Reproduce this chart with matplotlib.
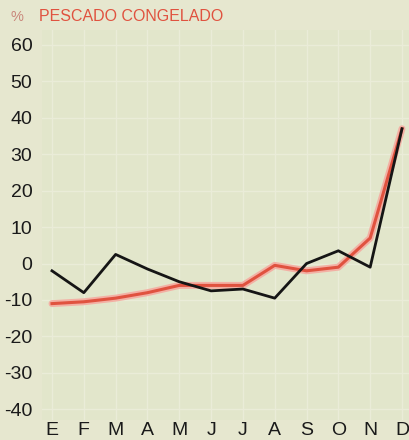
import matplotlib

matplotlib.use("Agg")
import matplotlib.pyplot as plt

months = ["E", "F", "M", "A", "M", "J", "J", "A", "S", "O", "N", "D"]
serie_negra = [-2, -8, 2.5, -1.5, -5, -7.5, -7, -9.5, 0, 3.5, -1, 37]
serie_roja = [-11, -10.5, -9.5, -8, -6, -6, -6, -0.5, -2, -1, 7, 37]
yticks = [60, 50, 40, 30, 20, 10, 0, -10, -20, -30, -40]

plt.rcParams["font.family"] = ["Liberation Sans", "DejaVu Sans"]

BG = "#e6e7cf"
PLOT_BG = "#e2e6cb"
RED = "#e0523f"

fig = plt.figure(figsize=(4.09, 4.40), dpi=100, facecolor=BG)
ax = fig.add_axes([0.103, 0.045, 0.897, 0.886], facecolor=PLOT_BG)

x = list(range(len(months)))
# red series drawn with a soft pink halo like the print
ax.plot(x, serie_roja, color="#f3b0a4", lw=5.0, solid_capstyle="round", zorder=2)
ax.plot(x, serie_roja, color=RED, lw=2.2, zorder=3)
ax.plot(x, serie_negra, color="#151515", lw=2.0, zorder=4)

ax.set_xlim(-0.31, 11.22)
ax.set_ylim(-43, 64)
ax.set_yticks(yticks)
ax.set_yticklabels([str(v) for v in yticks])
ax.set_xticks(x)
ax.set_xticklabels(months)
ax.tick_params(length=0, labelsize=14, colors="#1a1a1a")
ax.tick_params(axis="y", pad=7)
ax.tick_params(axis="x", pad=1)
ax.grid(True, color="#eaecd8", lw=1.0)
for s in ax.spines.values():
    s.set_visible(False)

fig.text(0.025, 0.962, "%", color="#c9867a", fontsize=10.5, va="center")
fig.text(0.095, 0.962, "PESCADO CONGELADO", color=RED, fontsize=11.5, va="center")

fig.savefig("out.png", dpi=100, facecolor=BG)
